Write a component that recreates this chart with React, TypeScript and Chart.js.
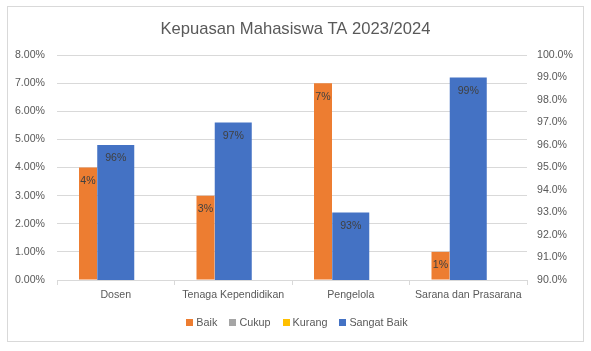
import React, { useEffect, useRef } from "react";
import { Chart, registerables } from "chart.js";

Chart.register(...registerables);

const title = "Kepuasan Mahasiswa TA 2023/2024";
const categories = ["Dosen", "Tenaga Kependidikan", "Pengelola", "Sarana dan Prasarana"];
const seriesNames = ["Baik", "Cukup", "Kurang", "Sangat Baik"];
const seriesColors = ["#ED7D31", "#A5A5A5", "#FFC000", "#4472C4"];
const baik = [0.04, 0.03, 0.07, 0.01];
const cukup = [0, 0, 0, 0];
const kurang = [0, 0, 0, 0];
const sangatBaik = [0.96, 0.97, 0.93, 0.99];
const leftAxis = { min: 0, max: 0.08, step: 0.01, decimals: 2 };
const rightAxis = { min: 0.9, max: 1.0, step: 0.01, decimals: 1 };

const FONT = "'Liberation Sans', Arial, sans-serif";
const TEXT = "#595959";
const GRID = "#D9D9D9";

const decorPlugin = {
  id: "decor",
  beforeDraw(chart: any) {
    const ctx = chart.ctx;
    ctx.save();
    ctx.fillStyle = "#ffffff";
    ctx.fillRect(0, 0, chart.width, chart.height);
    ctx.strokeStyle = GRID;
    ctx.lineWidth = 1;
    ctx.strokeRect(7.5, 6.5, 576, 335);
    ctx.restore();
  },
  afterDraw(chart: any) {
    const ctx = chart.ctx;
    ctx.save();
    // title
    ctx.fillStyle = TEXT;
    ctx.font = `16.6px ${FONT}`;
    ctx.textAlign = "center";
    ctx.textBaseline = "middle";
    ctx.fillText(title, 295.5, 29);
    // legend
    ctx.font = `10.8px ${FONT}`;
    ctx.textAlign = "left";
    const box = 7;
    const gap = 3;
    const spacing = 12;
    const items = chart.data.datasets.map((d: any) => ({
      label: d.label,
      color: d.backgroundColor,
      w: ctx.measureText(d.label).width,
    }));
    const total = items.reduce((s: number, it: any) => s + box + gap + it.w, 0) + spacing * (items.length - 1);
    let x = 297 - total / 2;
    const cy = 322.5;
    for (const it of items) {
      ctx.fillStyle = it.color;
      ctx.fillRect(Math.round(x), Math.round(cy - box / 2), box, box);
      ctx.fillStyle = TEXT;
      ctx.fillText(it.label, x + box + gap, cy + 0.5);
      x += box + gap + it.w + spacing;
    }
    ctx.restore();
  },
  afterDatasetsDraw(chart: any) {
    const ctx = chart.ctx;
    ctx.save();
    ctx.fillStyle = "#404040";
    ctx.font = `10.6px ${FONT}`;
    ctx.textAlign = "center";
    ctx.textBaseline = "middle";
    [0, 3].forEach((di) => {
      const meta = chart.getDatasetMeta(di);
      const data = chart.data.datasets[di].data;
      meta.data.forEach((el: any, i: number) => {
        const v = data[i];
        if (!v) return;
        ctx.fillText(Math.round(v * 100) + "%", el.x, el.y + 13.5);
      });
    });
    ctx.restore();
  },
};

export default function App() {
  const ref = useRef<HTMLCanvasElement | null>(null);
  useEffect(() => {
    if (!ref.current) return;
    const groupedOpts = { categoryPercentage: 0.7085, barPercentage: 0.6486, yAxisID: "y" };
    const chart = new Chart(ref.current, {
      type: "bar",
      data: {
        labels: categories,
        datasets: [
          { label: seriesNames[0], data: baik, backgroundColor: seriesColors[0], ...groupedOpts },
          { label: seriesNames[1], data: cukup, backgroundColor: seriesColors[1], ...groupedOpts },
          { label: seriesNames[2], data: kurang, backgroundColor: seriesColors[2], ...groupedOpts },
          {
            label: seriesNames[3],
            data: sangatBaik,
            backgroundColor: seriesColors[3],
            yAxisID: "y1",
            grouped: false,
            categoryPercentage: 1,
            barPercentage: 0.315,
          } as any,
        ],
      },
      options: {
        responsive: false,
        animation: false,
        devicePixelRatio: 1,
        layout: { padding: { top: 55, bottom: 41, left: 0, right: 0 } },
        plugins: {
          legend: { display: false },
          title: { display: false },
          tooltip: { enabled: false },
        },
        scales: {
          x: {
            grid: { display: true, drawOnChartArea: false, offset: true, tickLength: 5, color: GRID },
            border: { display: true, color: GRID },
            ticks: { color: TEXT, font: { family: FONT, size: 10.6 }, padding: 4, maxRotation: 0, autoSkip: false },
            afterFit: (s: any) => { s.height = 30; },
          },
          y: {
            position: "left",
            min: leftAxis.min,
            max: leftAxis.max,
            grid: { color: GRID, drawTicks: false },
            border: { display: false },
            ticks: {
              stepSize: leftAxis.step,
              color: TEXT,
              padding: 12,
              font: { family: FONT, size: 10.6 },
              callback: (v: any) => (v * 100).toFixed(leftAxis.decimals) + "%",
            },
            afterFit: (s: any) => { s.width = 57; },
          },
          y1: {
            position: "right",
            min: rightAxis.min,
            max: rightAxis.max,
            grid: { drawOnChartArea: false, drawTicks: false },
            border: { display: false },
            ticks: {
              stepSize: rightAxis.step,
              color: TEXT,
              padding: 10,
              font: { family: FONT, size: 10.6 },
              callback: (v: any) => (v * 100).toFixed(rightAxis.decimals) + "%",
            },
            afterFit: (s: any) => { s.width = 64; },
          },
        },
      } as any,
      plugins: [decorPlugin],
    });
    return () => chart.destroy();
  }, []);
  return (
    <div style={{ position: "absolute", left: 0, top: 0, width: 591, height: 351 }}>
      <canvas ref={ref} width={591} height={351} style={{ width: 591, height: 351 }} />
    </div>
  );
}
